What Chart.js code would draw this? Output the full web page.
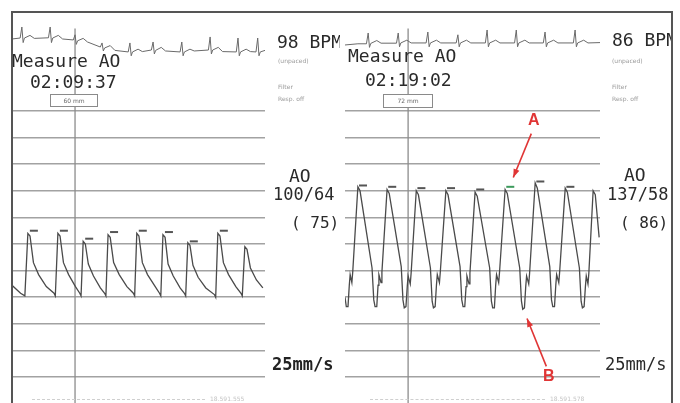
<!DOCTYPE html>
<html>
<head>
<meta charset="utf-8">
<script src="https://cdn.jsdelivr.net/npm/chart.js@4.4.1/dist/chart.umd.min.js"></script>
<style>
  html, body { margin: 0; padding: 0; background: #fff; }
  #page { position: relative; width: 680px; height: 403px; overflow: hidden; background: #fff; }
  #frame { position: absolute; left: 11px; top: 11px; width: 658px; height: 400px; border: 2px solid #555; border-bottom: none; z-index: 5; }
  .panel { position: absolute; top: 0; height: 403px; overflow: hidden; }
  #L { left: 0; width: 340px; }
  #R { left: 340px; width: 331px; }
  .panel canvas { position: absolute; top: 12px; }
  .t { position: absolute; font-family: "DejaVu Sans Mono", monospace; color: #2a2a2a; white-space: nowrap; line-height: 1; }
  .big { font-size: 18px; }
  .mid { font-size: 17px; }
  .sm { font-size: 16px; }
  .tiny { font-family: "DejaVu Sans", sans-serif; font-size: 6px; color: #9a9a9a; }
  .box { position: absolute; border: 1px solid #8a8a8a; background: #fff; font-family: "DejaVu Sans", sans-serif; font-size: 6px; color: #666; text-align: center; }
  .foot { position: absolute; top: 399px; border-top: 1px dashed #cfcfcf; height: 0; }
  .red { position: absolute; font-family: "Liberation Sans", sans-serif; font-weight: bold; font-size: 16px; color: #e03535; line-height: 1; }
</style>
</head>
<body>
<div id="page">
  <div id="L" class="panel">
    <canvas id="leftChart" width="328" height="391" style="left:12px"></canvas>
    <div class="t big" style="left:12px;top:52px">Measure AO</div>
    <div class="t big" style="left:30px;top:73px">02:09:37</div>
    <div class="box" style="left:50px;top:94px;width:46px;height:11px;line-height:11px">60 mm</div>
    <div class="t big" style="left:277px;top:33px">98 BPM</div>
    <div class="t tiny" style="left:278px;top:58px">(unpaced)</div>
    <div class="t tiny" style="left:278px;top:84px">Filter</div>
    <div class="t tiny" style="left:278px;top:96px">Resp. off</div>
    <div class="t big" style="left:289px;top:167px">AO</div>
    <div class="t mid" style="left:273px;top:186px">100/64</div>
    <div class="t sm" style="left:291px;top:215px">( 75)</div>
    <div class="t mid" style="left:272px;top:356px;font-weight:bold;color:#222">25mm/s</div>
    <div class="foot" style="left:32px;width:173px"></div>
    <div class="t tiny" style="left:210px;top:396px;color:#c4c4c4">18.591.555</div>
  </div>
  <div id="R" class="panel">
    <canvas id="rightChart" width="330" height="391" style="left:0px"></canvas>
    <div class="t big" style="left:8px;top:47px">Measure AO</div>
    <div class="t big" style="left:25px;top:71px">02:19:02</div>
    <div class="box" style="left:43px;top:94px;width:48px;height:12px;line-height:12px">72 mm</div>
    <div class="t big" style="left:272px;top:31px">86 BPM</div>
    <div class="t tiny" style="left:272px;top:58px">(unpaced)</div>
    <div class="t tiny" style="left:272px;top:84px">Filter</div>
    <div class="t tiny" style="left:272px;top:96px">Resp. off</div>
    <div class="t big" style="left:284px;top:166px">AO</div>
    <div class="t mid" style="left:267px;top:186px">137/58</div>
    <div class="t sm" style="left:280px;top:215px">( 86)</div>
    <div class="t mid" style="left:265px;top:356px">25mm/s</div>
    <div class="foot" style="left:30px;width:175px"></div>
    <div class="t tiny" style="left:210px;top:396px;color:#c4c4c4">18.591.578</div>
    <div class="red" style="left:188px;top:112px">A</div>
    <div class="red" style="left:203px;top:368px">B</div>
  </div>
  <div id="frame"></div>
</div>
<script>
// aortic pressure, mmHg, against time in s
const leftTime = [
  0.00, 0.20, 0.30,
  0.37, 0.42, 0.50, 0.62, 0.80, 0.98, 1.01,
  1.07, 1.12, 1.20, 1.32, 1.48, 1.58, 1.61,
  1.66, 1.71, 1.78, 1.90, 2.06, 2.16, 2.19,
  2.24, 2.29, 2.37, 2.50, 2.68, 2.83, 2.86,
  2.91, 2.96, 3.04, 3.16, 3.34, 3.44, 3.47,
  3.52, 3.57, 3.64, 3.76, 3.92, 4.02, 4.05,
  4.10, 4.15, 4.22, 4.34, 4.52, 4.72, 4.75,
  4.80, 4.85, 4.93, 5.05, 5.22, 5.34, 5.37,
  5.43, 5.48, 5.56, 5.70, 5.85
];
const leftAO = [
  69, 63, 61,
  108, 106, 86, 77, 68, 63, 61,
  108, 106, 86, 77, 68, 63, 61,
  102, 100, 85, 76, 67, 63, 61,
  107, 105, 86, 77, 68, 63, 61,
  108, 106, 86, 77, 68, 63, 61,
  107, 105, 85, 76, 67, 63, 61,
  101, 99, 84, 75, 67, 62, 60,
  108, 106, 86, 77, 68, 63, 61,
  98, 96, 82, 73, 67
];
const leftMarkT = [0.51, 1.21, 1.80, 2.38, 3.05, 3.66, 4.24, 4.94];
const leftMarkP = [110, 110, 104, 109, 110, 109, 102, 110];

const rightTime = [
  0.00, 0.03, 0.07, 0.10, 0.12, 0.16, 0.18,
  0.30, 0.35, 0.63, 0.67, 0.70, 0.74, 0.77, 0.79, 0.84, 0.86,
  0.98, 1.03, 1.31, 1.35, 1.38, 1.42, 1.45, 1.47, 1.52, 1.54,
  1.66, 1.71, 1.99, 2.03, 2.06, 2.10, 2.13, 2.15, 2.20, 2.22,
  2.35, 2.40, 2.68, 2.72, 2.75, 2.79, 2.82, 2.84, 2.89, 2.91,
  3.03, 3.08, 3.37, 3.41, 3.44, 3.48, 3.51, 3.53, 3.58, 3.60,
  3.73, 3.78, 4.07, 4.11, 4.14, 4.18, 4.21, 4.23, 4.28, 4.30,
  4.43, 4.48, 4.77, 4.81, 4.84, 4.88, 4.91, 4.93, 4.98, 5.00,
  5.13, 5.18, 5.46, 5.50, 5.53, 5.57, 5.60, 5.62, 5.66, 5.68,
  5.78, 5.83, 5.92
];
const rightAO = [
  60, 53, 53, 69, 77, 71, 79,
  143, 140, 82, 58, 53, 53, 69, 77, 71, 79,
  141, 138, 83, 58, 52, 53, 68, 76, 70, 78,
  140, 137, 82, 57, 52, 53, 69, 77, 71, 79,
  140, 137, 83, 58, 53, 53, 68, 76, 70, 78,
  139, 136, 82, 57, 52, 52, 69, 77, 71, 79,
  141, 138, 82, 57, 51, 52, 68, 76, 70, 78,
  146, 142, 83, 58, 53, 53, 69, 77, 71, 79,
  142, 139, 82, 57, 52, 53, 68, 76, 70, 78,
  140, 137, 105
];
const rightMarkT = [0.42, 1.10, 1.78, 2.47, 3.15, 3.85, 4.55, 5.25];
const rightMarkP = [144, 143, 142, 142, 141, 143, 147, 143];
const rightMarkColor = ['#555', '#555', '#555', '#555', '#555', '#3c9a5c', '#555', '#555'];

// ECG strip, mV
const leftEcgT = [
  0.00,
  0.19, 0.23, 0.26, 0.29, 0.42, 0.52,
  0.85, 0.89, 0.92, 0.95, 1.08, 1.18,
  1.43, 1.47, 1.50, 1.53, 1.66, 1.76,
  2.06, 2.10, 2.13, 2.16, 2.29, 2.40,
  2.71, 2.75, 2.78, 2.81, 2.94, 3.04,
  3.25, 3.29, 3.32, 3.35, 3.48, 3.58,
  3.92, 3.96, 3.99, 4.02, 4.15, 4.25,
  4.58, 4.62, 4.65, 4.68, 4.81, 4.91,
  5.23, 5.27, 5.30, 5.33, 5.46, 5.56,
  5.69, 5.73, 5.76, 5.79, 5.90
];
const leftEcg = [
  0.25,
  0.33, 1.25, -0.05, 0.33, 0.55, 0.30,
  0.35, 1.25, -0.05, 0.33, 0.55, 0.25,
  0.17, 0.60, -0.20, 0.10, 0.30, 0.00,
  -0.42, -0.08, -0.75, -0.50, -0.30, -0.70,
  -0.83, -0.08, -1.15, -0.83, -0.60, -0.80,
  -0.67, 0.00, -1.00, -0.70, -0.45, -0.75,
  -0.83, 0.00, -1.15, -0.83, -0.60, -0.75,
  -0.67, 0.42, -1.00, -0.67, -0.45, -0.80,
  -0.83, 0.33, -1.15, -0.83, -0.60, -0.80,
  -0.83, 0.33, -1.15, -0.83, -0.70
];
const rightEcgT = [
  0.00, 0.30,
  0.50, 0.54, 0.57, 0.60, 0.74, 0.84,
  1.20, 1.24, 1.27, 1.30, 1.44, 1.54,
  1.89, 1.93, 1.96, 1.99, 2.13, 2.23,
  2.59, 2.63, 2.66, 2.69, 2.83, 2.93,
  3.27, 3.31, 3.34, 3.37, 3.51, 3.61,
  3.95, 3.99, 4.02, 4.05, 4.19, 4.29,
  4.62, 4.66, 4.69, 4.72, 4.86, 4.96,
  5.32, 5.36, 5.39, 5.42, 5.56, 5.66,
  5.94
];
const rightEcg = [
  -0.25, -0.15,
  -0.15, 0.75, -0.45, -0.12, 0.12, -0.10,
  -0.10, 0.75, -0.40, -0.08, 0.15, -0.08,
  -0.08, 0.83, -0.40, -0.08, 0.15, -0.08,
  -0.08, 0.60, -0.40, -0.08, 0.15, -0.08,
  -0.08, 1.00, -0.40, -0.08, 0.15, -0.08,
  -0.08, 1.00, -0.40, -0.08, 0.15, -0.08,
  -0.08, 0.83, -0.40, -0.08, 0.15, -0.08,
  -0.08, 1.00, -0.40, -0.08, 0.15, -0.08,
  -0.05
];

const gridP = [0, 20, 40, 60, 80, 100, 120, 140, 160, 180, 200];
const cursorT = 1.47;
const cursorP = [-19.5, 262];

// red arrows on the right strip: [tailT, tailP, tipT, tipP]
const arrowA = [4.34, 183, 3.92, 150];
const arrowB = [4.69, 8, 4.24, 44];

const pMin = -19.5, pMax = 274.4;
const eMin = -30.1, eMax = 2.5;

function pts(xs, ys) {
  return xs.map((x, i) => ({ x: x, y: ys[i] }));
}

const arrowPlugin = {
  id: 'arrows',
  afterDatasetsDraw(chart, args, opts) {
    if (!opts.list) return;
    const c = chart.ctx, sx = chart.scales.x, sy = chart.scales.y;
    c.save();
    c.strokeStyle = '#e03535';
    c.fillStyle = '#e03535';
    c.lineWidth = 1.6;
    opts.list.forEach(a => {
      const x1 = sx.getPixelForValue(a[0]), y1 = sy.getPixelForValue(a[1]);
      const x2 = sx.getPixelForValue(a[2]), y2 = sy.getPixelForValue(a[3]);
      const ang = Math.atan2(y2 - y1, x2 - x1);
      c.beginPath(); c.moveTo(x1, y1); c.lineTo(x2, y2); c.stroke();
      c.beginPath();
      c.moveTo(x2, y2);
      c.lineTo(x2 - 9 * Math.cos(ang - 0.35), y2 - 9 * Math.sin(ang - 0.35));
      c.lineTo(x2 - 9 * Math.cos(ang + 0.35), y2 - 9 * Math.sin(ang + 0.35));
      c.closePath(); c.fill();
    });
    c.restore();
  }
};

function makePanel(id, o) {
  const ctx = document.getElementById(id).getContext('2d');
  return new Chart(ctx, {
    type: 'line',
    data: {
      datasets: [{
        label: 'AO',
        data: pts(o.t, o.p),
        yAxisID: 'y',
        borderColor: '#4a4a4a',
        borderWidth: 1.3,
        pointRadius: 0,
        tension: 0
      }, {
        label: 'ECG',
        data: pts(o.et, o.ev),
        yAxisID: 'ye',
        borderColor: '#6a6a6a',
        borderWidth: 1,
        pointRadius: 0,
        tension: 0
      }, {
        label: 'cursor',
        data: pts([cursorT, cursorT], cursorP),
        yAxisID: 'y',
        borderColor: '#8c8c8c',
        borderWidth: 1.3,
        pointRadius: 0
      }, {
        label: 'beat marks',
        data: pts(o.mt, o.mp),
        yAxisID: 'y',
        showLine: false,
        pointStyle: 'line',
        pointRadius: 4,
        pointBorderWidth: 2,
        pointBorderColor: o.mc
      }]
    },
    options: {
      responsive: false,
      animation: false,
      devicePixelRatio: 1,
      layout: { autoPadding: false, padding: { left: o.padL, right: o.padR, top: 0, bottom: 0 } },
      plugins: {
        legend: { display: false },
        tooltip: { enabled: false },
        arrows: { list: o.arrows }
      },
      scales: {
        x: { type: 'linear', min: 0, max: o.tMax, display: false },
        y: {
          type: 'linear', min: pMin, max: pMax,
          border: { display: false },
          ticks: { display: false },
          grid: { color: '#a2a2a2', lineWidth: 1.5, drawTicks: false },
          afterBuildTicks: s => { s.ticks = gridP.map(v => ({ value: v })); }
        },
        ye: { type: 'linear', min: eMin, max: eMax, display: false }
      }
    },
    plugins: [arrowPlugin]
  });
}

makePanel('leftChart', {
  t: leftTime, p: leftAO, et: leftEcgT, ev: leftEcg,
  mt: leftMarkT, mp: leftMarkP, mc: '#555',
  tMax: 5.90, padL: 0, padR: 75, arrows: null
});
makePanel('rightChart', {
  t: rightTime, p: rightAO, et: rightEcgT, ev: rightEcg,
  mt: rightMarkT, mp: rightMarkP, mc: rightMarkColor,
  tMax: 5.94, padL: 5, padR: 70, arrows: [arrowA, arrowB]
});
</script>
</body>
</html>
